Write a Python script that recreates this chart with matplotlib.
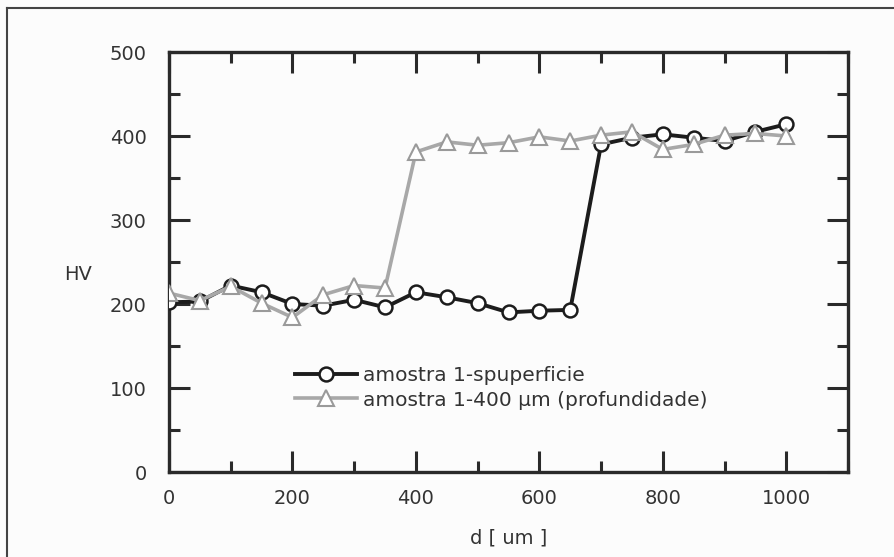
import numpy as np
import matplotlib
matplotlib.use('Agg')
import matplotlib.pyplot as plt
from matplotlib.lines import Line2D
from matplotlib.ticker import MultipleLocator

plt.rcParams['font.family'] = ['DejaVu Sans']

# Dados
d = [0, 50, 100, 150, 200, 250, 300, 350, 400, 450, 500, 550, 600, 650,
     700, 750, 800, 850, 900, 950, 1000]
hv_superficie = [202, 203, 222, 214, 200, 198, 205, 196, 214, 208, 201, 190,
                 192, 193, 390, 398, 402, 398, 394, 405, 414]
hv_400 = [213, 204, 221, 201, 184, 211, 222, 219, 381, 393, 389, 392, 399,
          394, 401, 405, 384, 390, 401, 403, 400]

lbl_sup = 'amostra 1-spuperficie'
lbl_400 = 'amostra 1-400 µm (profundidade)'

fig = plt.figure(figsize=(8.94, 5.57), dpi=100, facecolor='#fcfcfc')
ax = fig.add_axes([169/894, 1 - 472/557, (848 - 169)/894, (472 - 52)/557])
ax.set_facecolor('#fcfcfc')

ax.plot(d, hv_superficie, color='#1c1c1c', lw=2.8, marker='o', ms=10,
        mfc='white', mec='#1c1c1c', mew=1.8, label=lbl_sup, zorder=3)
ax.plot(d, hv_400, color='#a8a8a8', lw=2.6, marker='^', ms=11,
        mfc='white', mec='#9a9a9a', mew=1.5, label=lbl_400, zorder=4)

ax.set_xlim(0, 1100)
ax.set_ylim(0, 500)
ax.xaxis.set_major_locator(MultipleLocator(200))
ax.xaxis.set_minor_locator(MultipleLocator(100))
ax.yaxis.set_major_locator(MultipleLocator(100))
ax.yaxis.set_minor_locator(MultipleLocator(50))
ax.set_xticks([0, 200, 400, 600, 800, 1000])

for s in ax.spines.values():
    s.set_linewidth(2.4)
    s.set_color('#2a2a2a')
ax.tick_params(which='both', direction='in', top=True, right=True,
               color='#2a2a2a', width=2.2, labelsize=14, labelcolor='#333333')
ax.tick_params(which='major', length=15)
ax.tick_params(which='minor', length=8)
ax.tick_params(axis='x', which='major', pad=12)
ax.tick_params(axis='y', which='major', pad=16)

ax.set_xlabel('d [ um ]', fontsize=14, color='#333333')
ax.xaxis.set_label_coords(0.5, -0.135)
ax.set_ylabel('HV', fontsize=14, color='#333333', rotation=0, ha='center', va='center')
ax.yaxis.set_label_coords(-0.134, 0.47)

leg = ax.legend(loc='center left', bbox_to_anchor=(0.185, 0.2), frameon=False,
                fontsize=14.5, handlelength=3.1, handletextpad=0.3,
                labelspacing=0.25, borderpad=0, borderaxespad=0)
for t in leg.get_texts():
    t.set_color('#333333')

# moldura da figura digitalizada
fig.add_artist(Line2D([7/894, 7/894], [0, 1 - 8/557], transform=fig.transFigure,
                      color='#444444', lw=1.5))
fig.add_artist(Line2D([7/894, 1], [1 - 8/557, 1 - 8/557], transform=fig.transFigure,
                      color='#444444', lw=1.5))

fig.savefig('out.png', dpi=100, facecolor=fig.get_facecolor())
